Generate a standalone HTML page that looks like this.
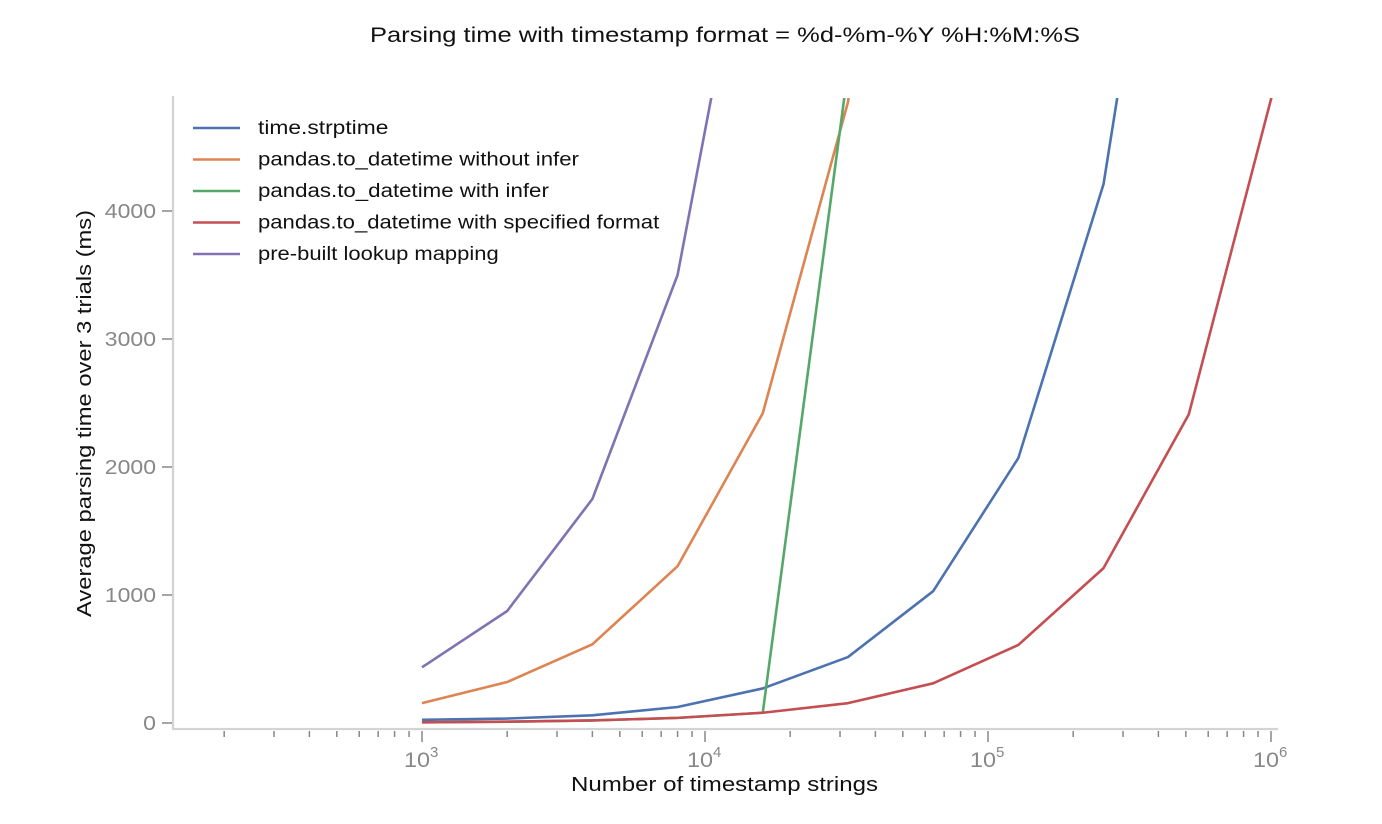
<!DOCTYPE html>
<html><head><meta charset="utf-8"><style>
body{margin:0;background:#fff;}
svg text{font-family:"Liberation Sans",sans-serif;}
</style></head><body>
<svg id="chart" width="1382" height="819" xmlns="http://www.w3.org/2000/svg">
<defs><clipPath id="clip"><rect x="173" y="98" width="1110" height="631"/></clipPath></defs>
<text x="370" y="42" font-size="21" fill="#111" textLength="710" lengthAdjust="spacingAndGlyphs">Parsing time with timestamp format = %d-%m-%Y %H:%M:%S</text>
<text x="571" y="791" font-size="20" fill="#111" textLength="307" lengthAdjust="spacingAndGlyphs">Number of timestamp strings</text>
<text transform="translate(91,617) rotate(-90)" font-size="20" fill="#111" textLength="407" lengthAdjust="spacingAndGlyphs">Average parsing time over 3 trials (ms)</text>
<g id="axes"></g>
<g id="series" clip-path="url(#clip)"></g>
<g id="legend"></g>
</svg>
<script>
const xs = [1000,2000,4000,8000,16000,32000,64000,128000,256000,512000,1024000];
const blue = [25,35,60,125,270,515,1030,2070,4210,8400,16800];
const orange = [155,320,615,1225,2420,4850,9700];
const green = [5,10,20,40,80,5100,10200];
const red = [5,10,20,40,80,155,310,610,1210,2410,4960];
const purple = [435,875,1750,3500,7000];
const yTicks = [0,1000,2000,3000,4000];
const xDecades = [3,4,5,6];
const names = ["time.strptime","pandas.to_datetime without infer","pandas.to_datetime with infer","pandas.to_datetime with specified format","pre-built lookup mapping"];
const colors = ["#4c72b0","#dd8452","#55a868","#c44e52","#8172b3"];
const NS="http://www.w3.org/2000/svg";
const X = v => 422 + (Math.log10(v)-3)*283;
const Y = v => 723 - v*0.128;
function mk(t,a,p){const e=document.createElementNS(NS,t);for(const k in a)e.setAttribute(k,a[k]);p.appendChild(e);return e;}
const ax=document.getElementById('axes');
const l1=mk('line',{x1:173,y1:96,x2:173,y2:730,stroke:'#d3d3d3','stroke-width':2.2},ax);


const l2=mk('line',{x1:172,y1:729,x2:1278,y2:729,stroke:'#d3d3d3','stroke-width':2.2},ax);


yTicks.forEach(v=>{
  mk('line',{x1:162,x2:172,y1:Y(v),y2:Y(v),stroke:'#888','stroke-width':1.5},ax);
  const s=String(v);
  const t=mk('text',{x:156,y:Y(v)+7,'text-anchor':'end','font-size':20,fill:'#888',textLength:s.length*12.8,lengthAdjust:'spacingAndGlyphs'},ax);
  t.textContent=s;
  
  
});
for(let d=2;d<=6;d++){
  for(let m=1;m<=9;m++){
    const v=m*Math.pow(10,d);const x=X(v);
    if(x<175||x>1278)continue;
    mk('line',{x1:x,x2:x,y1:731,y2:m==1?742:737,stroke:'#888','stroke-width':1.5},ax);
  }
}
xDecades.forEach(d=>{
  const t=mk('text',{x:X(Math.pow(10,d))-18,y:767,'font-size':21,fill:'#888'},ax);
  t.innerHTML='<tspan textLength="26" lengthAdjust="spacingAndGlyphs">10</tspan><tspan dy="-10" font-size="15">'+d+'</tspan>';
  
  
});
const sg=document.getElementById('series');
[blue,orange,green,red,purple].forEach((s,i)=>{
  const p=mk('polyline',{points:s.map((v,j)=>X(xs[j])+','+Y(v)).join(' '),fill:'none',stroke:colors[i],'stroke-width':2.6,'stroke-linejoin':'round'},sg);
  
  
});
const lg=document.getElementById('legend');
names.forEach((n,i)=>{
  const y=128+i*31.5;
  mk('line',{x1:193,x2:240,y1:y,y2:y,stroke:colors[i],'stroke-width':2.6},lg);
  const t=mk('text',{x:258,y:y+6,'font-size':19,fill:'#111',textLength:n.length*10.03,lengthAdjust:'spacingAndGlyphs'},lg);
  t.textContent=n;
  
  
});
</script>
</body></html>
